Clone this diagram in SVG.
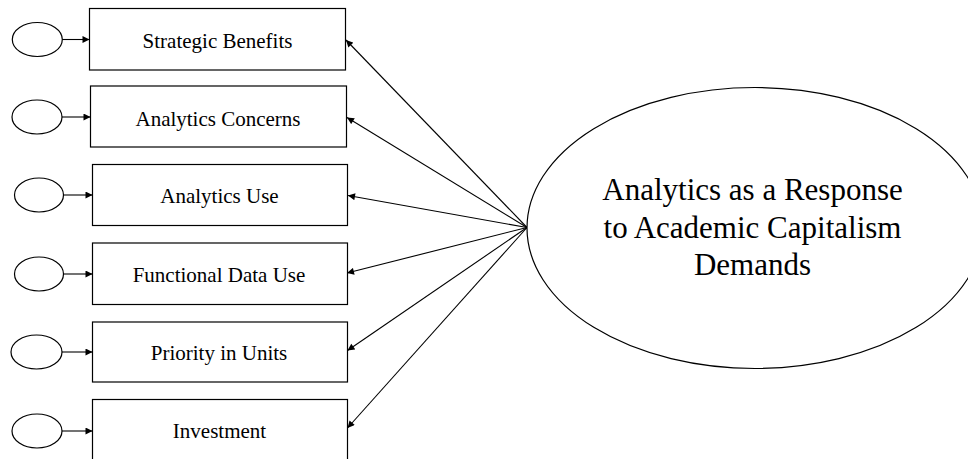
<svg xmlns="http://www.w3.org/2000/svg" width="968" height="459" viewBox="0 0 968 459">
<style>
.box{fill:#fff;stroke:#000;stroke-width:1.2}
.err{fill:#fff;stroke:#000;stroke-width:1.2}
.lat{fill:#fff;stroke:#000;stroke-width:1.2}
.lbl{font-family:"Liberation Serif","Times New Roman",serif;font-size:21px;fill:#000;text-anchor:middle}
.big{font-family:"Liberation Serif","Times New Roman",serif;font-size:31px;fill:#000;text-anchor:middle}
.con{stroke:#000;stroke-width:1.1;fill:none;marker-end:url(#ah)}
</style>
<defs>
<marker id="ah" viewBox="0 0 10 10" refX="10" refY="5" markerWidth="8" markerHeight="7" markerUnits="userSpaceOnUse" orient="auto">
<path d="M0,0 L10,5 L0,10 z" fill="#000"/>
</marker>
</defs>
<rect width="968" height="459" fill="#fff"/>
<g id="connectors">
<line class="con" x1="62" y1="39.5" x2="89.5" y2="39.5"/>
<line class="con" x1="62" y1="117" x2="90.5" y2="117"/>
<line class="con" x1="63.5" y1="195" x2="92.5" y2="195"/>
<line class="con" x1="63.5" y1="274" x2="92.5" y2="274"/>
<line class="con" x1="62" y1="352" x2="92.5" y2="352"/>
<line class="con" x1="62" y1="431" x2="92.5" y2="431"/>
<line class="con" x1="527" y1="227.5" x2="346" y2="40"/>
<line class="con" x1="527" y1="227.5" x2="347" y2="117.5"/>
<line class="con" x1="527" y1="227.5" x2="348" y2="195.5"/>
<line class="con" x1="527" y1="227.5" x2="347" y2="273"/>
<line class="con" x1="527" y1="227.5" x2="347.5" y2="350.5"/>
<line class="con" x1="527" y1="227.5" x2="347.5" y2="428"/>
</g>
<g id="e1"><ellipse class="err" cx="37.3" cy="39.5" rx="25" ry="17"/></g>
<g id="e2"><ellipse class="err" cx="37" cy="117" rx="25" ry="17"/></g>
<g id="e3"><ellipse class="err" cx="39" cy="195" rx="24.5" ry="17"/></g>
<g id="e4"><ellipse class="err" cx="39" cy="274" rx="24.5" ry="17"/></g>
<g id="e5"><ellipse class="err" cx="36.5" cy="352" rx="25.5" ry="17"/></g>
<g id="e6"><ellipse class="err" cx="37" cy="431" rx="25" ry="17"/></g>
<g id="n1"><rect class="box" x="89.5" y="8.5" width="256" height="61.5"/><text class="lbl" x="217.5" y="48">Strategic Benefits</text></g>
<g id="n2"><rect class="box" x="90.5" y="86" width="256" height="61"/><text class="lbl" x="218" y="125.5">Analytics Concerns</text></g>
<g id="n3"><rect class="box" x="92.5" y="164.5" width="255" height="61"/><text class="lbl" x="219.5" y="203">Analytics Use</text></g>
<g id="n4"><rect class="box" x="92.5" y="243" width="255" height="61.5"/><text class="lbl" x="219" y="281.5">Functional Data Use</text></g>
<g id="n5"><rect class="box" x="92.5" y="322" width="255" height="60"/><text class="lbl" x="219" y="360">Priority in Units</text></g>
<g id="n6"><rect class="box" x="92.5" y="399.5" width="255" height="70"/><text class="lbl" x="219.5" y="437.5">Investment</text></g>
<g id="latent"><ellipse class="lat" cx="755" cy="228" rx="228" ry="140.5"/>
<text class="big" x="752.5" y="200">Analytics as a Response</text>
<text class="big" x="752.5" y="238">to Academic Capitalism</text>
<text class="big" x="752.5" y="275">Demands</text>
</g>
</svg>
